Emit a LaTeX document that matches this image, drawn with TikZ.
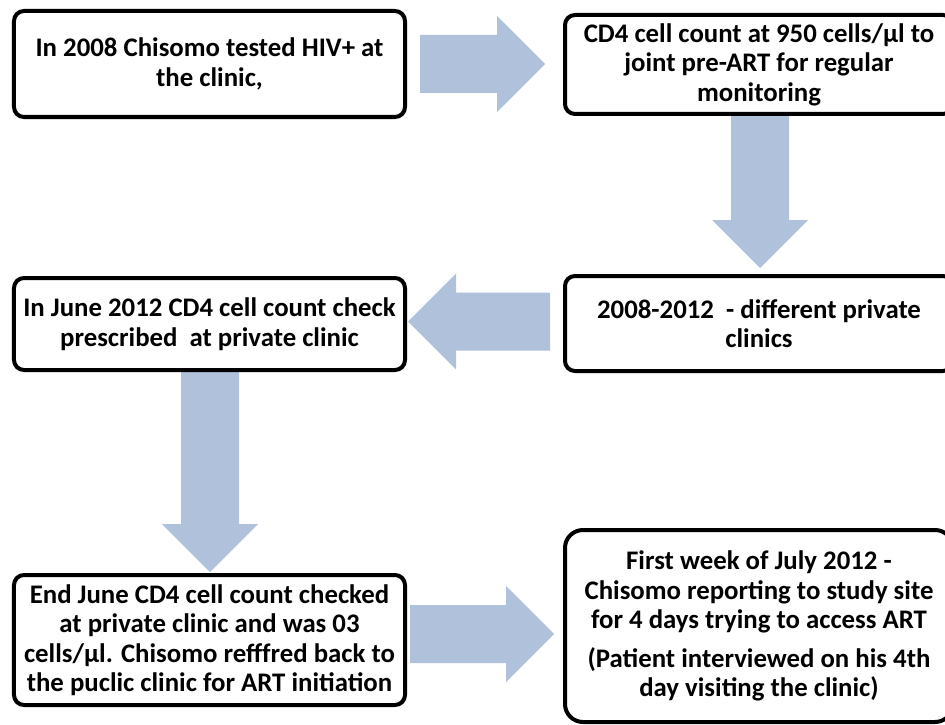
\documentclass[tikz,border=0pt]{standalone}
\usepackage{fontspec}
\setmainfont{Carlito}
\usetikzlibrary{calc,backgrounds}
\definecolor{arrowblue}{HTML}{B0C1DC}
\newcommand\fatarrow[2]{%
  \coordinate (fa-h) at ($(#2)!48bp!(#1)$);
  \fill[arrowblue] ($(#1)!29bp!90:(#2)$) -- ($(fa-h)!29bp!-90:(#1)$) -- ($(fa-h)!48bp!-90:(#1)$)
    -- (#2) -- ($(fa-h)!48bp!90:(#1)$) -- ($(fa-h)!29bp!90:(#1)$) -- ($(#1)!29bp!-90:(#2)$) -- cycle;}
\tikzset{
  box/.style={draw=black, line width=4bp, rounded corners=10bp, fill=white, align=center,
    font=\bfseries\fontsize{26.8bp}{29.5bp}\selectfont, inner sep=0pt},
}
\begin{document}
\begin{tikzpicture}[x=1bp,y=-1bp]
\useasboundingbox (0,0) rectangle (945,725);
\clip (0,0) rectangle (945,725);
\node[box, minimum width=391bp, minimum height=106bp] (b1) at (209.5,64)
  {In 2008 Chisomo tested HIV+ at\\the clinic,};
\node[box, minimum width=388bp, minimum height=99bp] (b2) at (759,64.5)
  {CD4 cell count at 950 cells/µl to\\joint pre-ART for regular\\monitoring};
\node[box, minimum width=388bp, minimum height=95bp] (b3) at (759,323.5)
  {2008-2012\ \ - different private\\clinics};
\node[box, minimum width=391bp, minimum height=92bp] (b4) at (209.5,324)
  {In June 2012 CD4 cell count check\\prescribed\ \ at private clinic};
\node[box, minimum width=391bp, minimum height=130bp] (b5) at (209.5,640)
  {End June CD4 cell count checked\\at private clinic and was 03\\cells/µl. Chisomo refffred back to\\the puclic clinic for ART initiation};
\node[box, rounded corners=18bp, minimum width=388bp, minimum height=192bp] (b6) at (759,626)
  {First week of July 2012 -\\Chisomo reporting to study site\\for 4 days trying to access ART\\[9bp](Patient interviewed on his 4th\\day visiting the clinic)};
\coordinate (a1s) at (420,64);    \coordinate (a1e) at (545,64);
\coordinate (a2s) at (760,116);   \coordinate (a2e) at (760,268);
\coordinate (a3s) at (550,321.5); \coordinate (a3e) at (408,321.5);
\coordinate (a4s) at (210,368);   \coordinate (a4e) at (210,572);
\coordinate (a5s) at (410,634);   \coordinate (a5e) at (554,634);
\begin{scope}[on background layer]
  \fill[white] (0,0) rectangle (945,725);
  \fatarrow{a1s}{a1e}
  \fatarrow{a2s}{a2e}
  \fatarrow{a3s}{a3e}
  \fatarrow{a4s}{a4e}
  \fatarrow{a5s}{a5e}
\end{scope}
\end{tikzpicture}
\end{document}
